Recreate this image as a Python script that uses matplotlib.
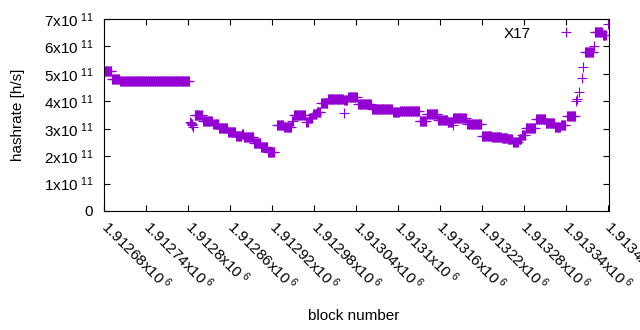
#!/usr/bin/env python3
"""Hashrate per block for the X17 chain, gnuplot-style scatter of '+' points."""

import matplotlib

matplotlib.use("Agg")
import matplotlib.pyplot as plt
import numpy as np
from matplotlib.ticker import FixedLocator, FuncFormatter

# runs of blocks sharing the same hashrate estimate (x1e11 h/s)
run_start = [
    1912680, 1912691, 1912703, 1912809, 1912821, 1912836, 1912844, 1912857,
    1912869, 1912877, 1912880, 1912894, 1912904, 1912914, 1912927, 1912937,
    1912949, 1912951, 1912969, 1912973, 1912979, 1912984, 1912990, 1913000,
    1913023, 1913029, 1913043, 1913063, 1913093, 1913103, 1913131, 1913141,
    1913157, 1913171, 1913179, 1913199, 1913220, 1913234, 1913249, 1913257,
    1913264, 1913273, 1913277, 1913283, 1913297, 1913311, 1913324, 1913333,
    1913342, 1913367, 1913381, 1913393,
]
run_end = [
    1912690, 1912701, 1912801, 1912820, 1912834, 1912843, 1912856, 1912867,
    1912876, 1912879, 1912893, 1912903, 1912913, 1912923, 1912936, 1912947,
    1912950, 1912967, 1912971, 1912977, 1912983, 1912989, 1912999, 1913021,
    1913027, 1913041, 1913061, 1913091, 1913101, 1913130, 1913140, 1913156,
    1913170, 1913177, 1913197, 1913219, 1913233, 1913247, 1913256, 1913263,
    1913271, 1913276, 1913281, 1913296, 1913310, 1913323, 1913331, 1913339,
    1913353, 1913379, 1913391, 1913397,
]
run_value = [
    5.12, 4.80, 4.73, 3.50, 3.28, 3.17, 3.03, 2.88,
    2.75, 2.82, 2.68, 2.49, 2.33, 2.15, 3.13, 3.06,
    3.28, 3.50, 3.25, 3.40, 3.52, 3.62, 3.94, 4.08,
    4.05, 4.16, 3.90, 3.72, 3.61, 3.66, 3.28, 3.54,
    3.32, 3.25, 3.39, 3.17, 2.73, 2.70, 2.66, 2.62,
    2.50, 2.62, 2.78, 3.03, 3.35, 3.22, 3.06, 3.14,
    3.46, 5.80, 6.53, 6.42,
]

# single blocks that stand apart from the runs
single_block = [1912803, 1912804, 1912805, 1912806, 1912807, 1913022, 1913178,
                1913355, 1913356, 1913359, 1913363, 1913364, 1913380, 1913400]
single_value = [3.24, 3.20, 3.16, 3.12, 3.08, 3.57, 3.14,
                4.02, 4.10, 4.34, 4.85, 5.25, 6.00, 6.82]

x_ticks = [1912680 + 60 * i for i in range(13)]
y_ticks = [0, 1, 2, 3, 4, 5, 6, 7]

violet = "#9400D3"

plt.rcParams["font.family"] = ["Liberation Sans", "DejaVu Sans"]
plt.rcParams["mathtext.fontset"] = "custom"
plt.rcParams["mathtext.rm"] = "Liberation Sans"
plt.rcParams["mathtext.it"] = "Liberation Sans"

blocks = np.concatenate(
    [np.arange(s, e + 1) for s, e in zip(run_start, run_end)] + [np.array(single_block)]
)
rates = np.concatenate(
    [np.full(e - s + 1, v) for s, e, v in zip(run_start, run_end, run_value)]
    + [np.array(single_value)]
) * 1e11

fig = plt.figure(figsize=(6.4, 3.3), dpi=100)
ax = fig.add_axes([104.3 / 640, 1 - 211 / 330, 505 / 640, 192 / 330])

ax.plot(blocks, rates, linestyle="none", marker="+", markersize=6.5,
        markeredgewidth=0.8, color=violet, label="X17")

ax.set_xlim(1912680, 1913402)
ax.set_ylim(0, 7e11)
ax.xaxis.set_major_locator(FixedLocator(x_ticks))
ax.yaxis.set_major_locator(FixedLocator([v * 1e11 for v in y_ticks]))
ax.xaxis.set_major_formatter(FuncFormatter(lambda v, _: f"{v / 1e6:g}x10$^{{\\ 6}}$"))
ax.yaxis.set_major_formatter(
    FuncFormatter(lambda v, _: "0" if v == 0 else f"{v / 1e11:.0f}x10$^{{\\ 11}}$")
)
ax.tick_params(direction="in", length=4, width=0.8, top=True, right=True,
               labelsize=11, colors="black")
ax.tick_params(axis="y", pad=8)
ax.tick_params(axis="x", pad=9)
for label in ax.get_xticklabels():
    label.set_rotation(-45)
    label.set_ha("left")
    label.set_va("center")
    label.set_rotation_mode("anchor")
for side in ax.spines.values():
    side.set_linewidth(0.8)

ax.set_xlabel("block number", fontsize=11)
ax.set_ylabel("hashrate [h/s]", fontsize=11)
ax.xaxis.set_label_coords(0.494, -0.51)
ax.yaxis.set_label_coords(-0.158, 0.5)

ax.legend(loc="upper right", bbox_to_anchor=(0.944, 0.96), frameon=False,
          markerfirst=False, handlelength=2.0, handletextpad=1.3,
          borderpad=0, borderaxespad=0, fontsize=11)

fig.savefig("out.png", dpi=100, facecolor="white")
plt.close(fig)
